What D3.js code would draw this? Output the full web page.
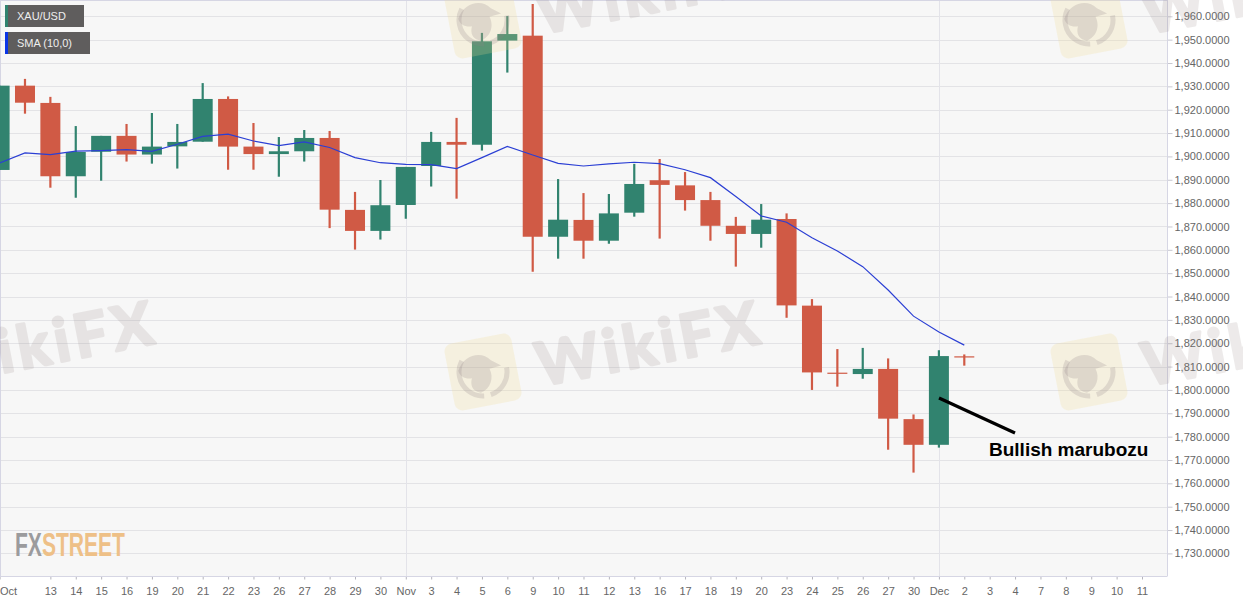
<!DOCTYPE html>
<html>
<head>
<meta charset="utf-8">
<script src="https://cdn.jsdelivr.net/npm/d3@7"></script>
<style>
  html, body { margin: 0; padding: 0; background: #fff; overflow: hidden; }
  text { font-family: "Liberation Sans", Arial, sans-serif; }
</style>
</head>
<body>
<div id="chart"></div>
<script>
var dates = ["Oct", "12", "13", "14", "15", "16", "19", "20", "21", "22", "23", "26", "27", "28", "29", "30",
    "Nov", "3", "4", "5", "6", "9", "10", "11", "12", "13", "16", "17", "18", "19", "20", "23", "24", "25", "26", "27", "30",
    "Dec", "2", "3", "4", "7", "8", "9", "10", "11"];

var opens = [1894.2, 1930.3, 1922.9, 1891.5, 1902.0, 1908.8, 1900.8, 1904.3, 1906.3, 1924.6, 1904.2, 1901.0, 1902.2, 1907.9, 1877.1, 1868.1,
    1879.2, 1895.9, 1906.2, 1905.0, 1949.6, 1951.7, 1865.6, 1872.8, 1863.9, 1875.9, 1889.8, 1887.6, 1881.3, 1870.3, 1866.8, 1873.2, 1836.1, 1807.4, 1806.8, 1809.0, 1787.5,
    1776.5, 1814.4];
var highs = [1930.3, 1933.2, 1925.5, 1913.0, 1908.8, 1913.9, 1918.6, 1913.9, 1931.4, 1925.7, 1914.3, 1908.3, 1911.3, 1910.9, 1884.8, 1889.9,
    1895.5, 1910.5, 1916.5, 1952.9, 1960.1, 1965.3, 1890.3, 1884.3, 1883.9, 1896.8, 1898.9, 1893.3, 1884.8, 1874.1, 1879.6, 1875.6, 1838.9, 1817.5, 1818.0, 1813.5, 1789.5,
    1817.0, 1815.2];
var lows = [1894.2, 1918.3, 1886.6, 1882.3, 1889.6, 1897.8, 1896.9, 1894.8, 1906.3, 1894.3, 1894.3, 1891.3, 1897.8, 1869.3, 1860.1, 1864.4,
    1873.3, 1887.1, 1881.9, 1902.5, 1935.9, 1850.6, 1856.2, 1856.2, 1862.6, 1874.2, 1864.8, 1876.8, 1863.9, 1852.8, 1860.9, 1830.9, 1800.0, 1801.4, 1804.8, 1774.4, 1764.6,
    1775.3, 1810.4];
var closes = [1930.3, 1923.0, 1891.5, 1901.9, 1908.8, 1900.8, 1904.2, 1906.2, 1924.6, 1904.2, 1901.0, 1902.2, 1907.9, 1877.2, 1868.1, 1879.1,
    1895.5, 1906.2, 1905.0, 1949.3, 1952.4, 1865.6, 1872.9, 1863.9, 1875.6, 1888.2, 1887.8, 1881.3, 1870.3, 1866.8, 1872.9, 1836.2, 1807.5, 1807.0, 1809.0, 1787.7, 1776.5,
    1814.5, 1814.0];
var sma = [1897.2, 1901.5, 1900.8, 1902.3, 1902.5, 1902.9, 1902.2, 1905.2, 1908.6, 1909.5, 1906.6, 1904.6, 1906.2, 1903.8, 1899.5, 1897.3,
    1896.6, 1896.5, 1894.8, 1899.5, 1904.3, 1900.6, 1897.0, 1895.9, 1896.8, 1897.5, 1896.9, 1894.3, 1890.9, 1882.8, 1874.5, 1871.8, 1865.2, 1859.5, 1852.8, 1842.8, 1831.6,
    1824.8, 1819.2];
var priceTicks = d3.range(1730, 1961, 10);
var monthLines = ["Nov", "Dec"];

var width = 1243, height = 602,
    plotRight = 1167, plotTop = 0.5, plotBottom = 576.5,
    green = "#31836f", red = "#d05a45";

var svg = d3.select("#chart")
    .append("svg")
    .attr("width", width)
    .attr("height", height)
    .style("display", "block");

var x = d3.scaleLinear().domain([0, dates.length - 1]).range([-0.4, 1142]);
var y = d3.scaleLinear().domain([1730, 1960]).range([553.4, 16.3]);

// plot background
svg.append("rect")
    .attr("x", 0.5).attr("y", plotTop)
    .attr("width", plotRight - 0.5).attr("height", plotBottom - plotTop)
    .attr("fill", "#f7f7f7")
    .attr("stroke", "none");

// grid
svg.append("g").selectAll("line")
    .data(priceTicks)
    .join("line")
    .attr("x1", 0).attr("x2", plotRight)
    .attr("y1", function(d) { return Math.round(y(d)) + 0.5; })
    .attr("y2", function(d) { return Math.round(y(d)) + 0.5; })
    .attr("stroke", "#e3e3e6");

svg.append("g").selectAll("line")
    .data(monthLines)
    .join("line")
    .attr("x1", function(d) { return Math.round(x(dates.indexOf(d))) + 0.5; })
    .attr("x2", function(d) { return Math.round(x(dates.indexOf(d))) + 0.5; })
    .attr("y1", plotTop).attr("y2", plotBottom)
    .attr("stroke", "#e3e3e9");

// axes
var yAxis = svg.append("g")
    .attr("transform", "translate(" + (plotRight + 0.5) + ",0)")
    .call(d3.axisRight(y).tickValues(priceTicks).tickSize(5).tickPadding(2).tickFormat(d3.format(",.4f")));
yAxis.select(".domain").remove();
yAxis.selectAll("line").attr("stroke", "#c8c8d0");
yAxis.selectAll("text").attr("fill", "#666").style("font-size", "11px");

var shownTicks = d3.range(dates.length).filter(function(i) { return i != 1; });
var xAxis = svg.append("g")
    .attr("transform", "translate(0," + plotBottom + ")")
    .call(d3.axisBottom(x).tickValues(shownTicks).tickSize(3).tickPadding(8)
        .tickFormat(function(i) { return dates[i]; }));
xAxis.select(".domain").remove();
xAxis.selectAll("line").attr("stroke", "#b5b5bd");
xAxis.selectAll("text").attr("fill", "#666").style("font-size", "11px");
xAxis.selectAll("text").filter(function(i) { return i == 0; }).attr("x", 8.5);

// frame
var frame = svg.append("g").attr("stroke", "#d6d6e4").attr("fill", "none");
frame.append("line").attr("x1", 0.5).attr("x2", 0.5).attr("y1", 0).attr("y2", plotBottom);
frame.append("line").attr("x1", 0).attr("x2", plotRight).attr("y1", plotTop).attr("y2", plotTop);
frame.append("line").attr("x1", plotRight + 0.5).attr("x2", plotRight + 0.5).attr("y1", 0).attr("y2", plotBottom);
frame.append("line").attr("x1", 0).attr("x2", plotRight).attr("y1", plotBottom).attr("y2", plotBottom);

// candles
var candles = opens.map(function(o, i) {
    return { i: i, open: o, high: highs[i], low: lows[i], close: closes[i] };
});
var colour = function(d) { return d.close >= d.open ? green : red; };

svg.append("g").selectAll("line")
    .data(candles)
    .join("line")
    .attr("x1", function(d) { return x(d.i); })
    .attr("x2", function(d) { return x(d.i); })
    .attr("y1", function(d) { return y(d.high); })
    .attr("y2", function(d) { return y(d.low); })
    .attr("stroke", colour)
    .attr("stroke-width", 2.2);

svg.append("g").selectAll("rect")
    .data(candles)
    .join("rect")
    .attr("x", function(d) { return x(d.i) - 10; })
    .attr("width", 20)
    .attr("y", function(d) { return y(Math.max(d.open, d.close)); })
    .attr("height", function(d) { return Math.max(1.2, Math.abs(y(d.open) - y(d.close))); })
    .attr("fill", colour);

// moving average
svg.append("path")
    .datum(sma)
    .attr("fill", "none")
    .attr("stroke", "#2b3fd4")
    .attr("stroke-width", 1.2)
    .attr("d", d3.line()
        .x(function(d, i) { return x(i); })
        .y(function(d) { return y(d); }));

// legend labels
function legendTag(top, w, stripe, label) {
    svg.append("rect").attr("x", 5).attr("y", top).attr("width", w).attr("height", 22).attr("fill", "#5f5d5d");
    svg.append("rect").attr("x", 5).attr("y", top).attr("width", 3).attr("height", 22).attr("fill", stripe);
    svg.append("text").attr("x", 17).attr("y", top + 15).attr("fill", "#eeeeee").style("font-size", "11px").text(label);
}
legendTag(5, 79, green, "XAU/USD");
legendTag(32, 85, "#0b35e6", "SMA (10,0)");

// annotation
svg.append("line")
    .attr("x1", 939).attr("y1", 398)
    .attr("x2", 1015).attr("y2", 433)
    .attr("stroke", "#000")
    .attr("stroke-width", 3.2);
svg.append("text")
    .attr("x", 989).attr("y", 456)
    .attr("fill", "#000")
    .style("font-size", "19px")
    .style("font-weight", "bold")
    .text("Bullish marubozu");

// fxstreet logo
var fx = svg.append("text")
    .attr("x", 15).attr("y", 556)
    .attr("textLength", 110).attr("lengthAdjust", "spacingAndGlyphs")
    .style("font-family", "'Liberation Sans Narrow', 'Liberation Sans', sans-serif")
    .style("font-weight", "bold")
    .style("font-size", "33px");
fx.append("tspan").attr("fill", "#9b9b9d").text("FX");
fx.append("tspan").attr("fill", "#eec087").text("STREET");

// wikifx watermark
function watermark(cx, cy) {
    var g = svg.append("g")
        .attr("transform", "translate(" + cx + "," + cy + ") rotate(-11)")
        .style("pointer-events", "none");
    g.append("rect")
        .attr("x", -34).attr("y", -34).attr("width", 68).attr("height", 68).attr("rx", 8)
        .attr("fill", "#f2d98e").attr("fill-opacity", 0.22);
    g.append("circle")
        .attr("r", 24)
        .attr("fill", "none")
        .attr("stroke", "#8f7f85").attr("stroke-opacity", 0.22)
        .attr("stroke-width", 5)
        .attr("stroke-dasharray", "34 7 50 60");
    g.append("path")
        .attr("d", "M-24,-6 C-16,-20 2,-22 10,-10 L19,-3 L7,-2 C10,8 4,18 -6,20 C-16,16 -14,8 -12,4 C-18,4 -24,0 -24,-6 Z")
        .attr("fill", "#8f7f85").attr("fill-opacity", 0.22);
    g.append("text")
        .attr("x", 54).attr("y", 25)
        .attr("textLength", 225).attr("lengthAdjust", "spacing")
        .attr("fill", "#8a7a78")
        .attr("stroke", "#8a7a78")
        .attr("stroke-width", 3)
        .attr("stroke-linejoin", "round")
        .attr("opacity", 0.15)
        .style("font-family", "Lato, sans-serif")
        .style("font-weight", "bold")
        .style("font-size", "60px")
        .text("WikiFX");
}
[[-123, 372], [483, 372], [1089, 372], [483, 20], [1089, 20]].forEach(function(p) {
    watermark(p[0], p[1]);
});
</script>
</body>
</html>
